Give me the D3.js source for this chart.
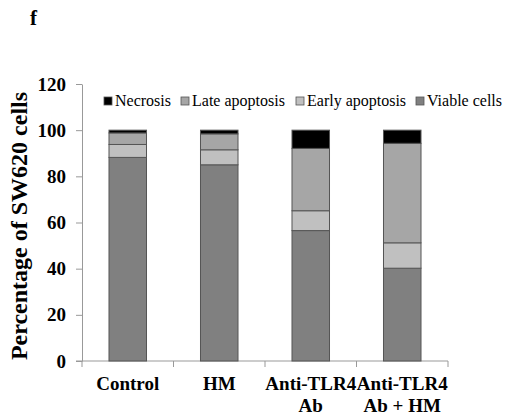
<!DOCTYPE html>
<html>
<head>
<meta charset="utf-8">
<script src="https://cdn.jsdelivr.net/npm/d3@7"></script>
<style>
  body { margin: 0; background: #fff; }
  text { font-family: "Liberation Serif", "Times New Roman", serif; }
</style>
</head>
<body>
<div id="chart"></div>
<script>
const groups = ["Control", "HM", "Anti-TLR4 Ab", "Anti-TLR4 Ab + HM"];
const groupLines = [["Control"], ["HM"], ["Anti-TLR4", "Ab"], ["Anti-TLR4", "Ab + HM"]];
const viable = [88.2, 85, 56.5, 40.2];
const early = [5.6, 6.5, 8.6, 11];
const late = [5, 6.9, 27, 43.1];
const necrosis = [1.2, 1.6, 7.9, 5.7];
const yTicks = [0, 20, 40, 60, 80, 100, 120];

const seriesNames = ["Viable cells", "Early apoptosis", "Late apoptosis", "Necrosis"];
const colors = { "Viable cells": "#808080", "Early apoptosis": "#c0c0c0", "Late apoptosis": "#a6a6a6", "Necrosis": "#000000" };

const rows = groups.map((g, i) => ({
  group: g,
  "Viable cells": viable[i],
  "Early apoptosis": early[i],
  "Late apoptosis": late[i],
  "Necrosis": necrosis[i]
}));

const svg = d3.select("#chart").append("svg")
  .attr("width", 505)
  .attr("height", 416);

const x = d3.scaleBand().domain(groups).range([82, 448]).padding(0);
const y = d3.scaleLinear().domain([0, 120]).range([361, 84]);
const barW = x.bandwidth() * 0.41;

// panel letter
svg.append("text").attr("x", 30).attr("y", 25)
  .style("font-size", "21px").style("font-weight", "bold").text("f");

// y axis
const yAxis = d3.axisLeft(y).tickValues(yTicks).tickSize(6).tickPadding(10).tickSizeOuter(0);
const gy = svg.append("g").attr("transform", "translate(82,0)").call(yAxis);
gy.select(".domain").attr("stroke", "#999");
gy.selectAll(".tick line").attr("stroke", "#999");
gy.selectAll(".tick text")
  .attr("fill", "#000")
  .style("font-family", "Liberation Serif, serif")
  .style("font-size", "19px").style("font-weight", "bold");

// x axis, ticks at category boundaries
svg.append("line").attr("x1", 76).attr("x2", 448).attr("y1", y(0)).attr("y2", y(0)).attr("stroke", "#999");
const bounds = groups.map(g => x(g)).concat([x(groups[groups.length - 1]) + x.bandwidth()]);
svg.selectAll(".xtick").data(bounds).enter().append("line")
  .attr("x1", d => d).attr("x2", d => d)
  .attr("y1", y(0)).attr("y2", y(0) + 6)
  .attr("stroke", "#999");

const xl = svg.selectAll(".xlab").data(groupLines).enter().append("text")
  .attr("text-anchor", "middle")
  .style("font-size", "19px").style("font-weight", "bold");
xl.each(function (lines, i) {
  const t = d3.select(this);
  lines.forEach((l, j) => {
    t.append("tspan").attr("x", x(groups[i]) + x.bandwidth() / 2)
      .attr("y", 390 + j * 22).text(l);
  });
});

// bars
const stack = d3.stack().keys(seriesNames)(rows);
svg.selectAll(".layer").data(stack).enter().append("g")
  .attr("fill", d => colors[d.key])
  .selectAll("rect").data(d => d).enter().append("rect")
  .attr("x", d => x(d.data.group) + (x.bandwidth() - barW) / 2)
  .attr("width", barW)
  .attr("y", d => y(d[1]))
  .attr("height", d => y(d[0]) - y(d[1]))
  .attr("stroke", "#555")
  .attr("stroke-width", 1);

// y title
svg.append("text")
  .attr("transform", "translate(27,226) rotate(-90)")
  .attr("text-anchor", "middle")
  .style("font-size", "24px").style("font-weight", "bold")
  .text("Percentage of SW620 cells");

// legend
const legendOrder = ["Necrosis", "Late apoptosis", "Early apoptosis", "Viable cells"];
const legendX = [104, 181, 296, 416];
const lg = svg.selectAll(".leg").data(legendOrder).enter().append("g")
  .attr("transform", (d, i) => `translate(${legendX[i]},101)`);
lg.append("rect").attr("x", 0).attr("y", -4).attr("width", 8).attr("height", 8)
  .attr("fill", d => colors[d]).attr("stroke", "#555").attr("stroke-width", 0.8);
lg.append("text").attr("x", 11).attr("y", 5)
  .style("font-size", "16px").text(d => d);
</script>
</body>
</html>
